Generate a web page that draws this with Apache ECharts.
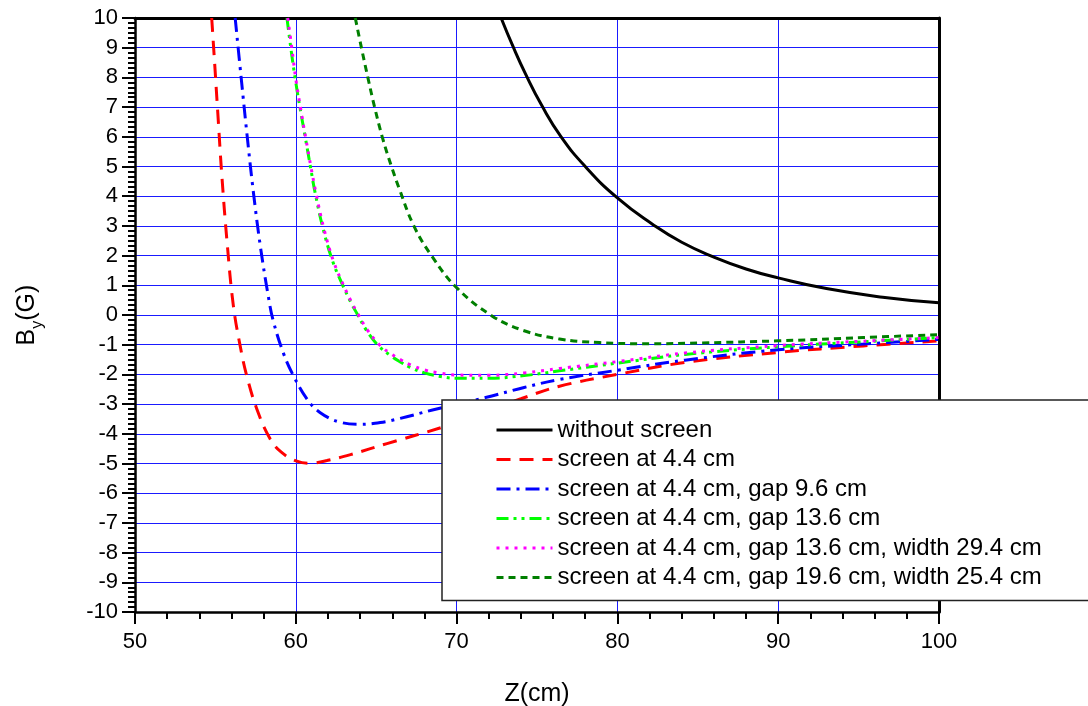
<!DOCTYPE html>
<html>
<head>
<meta charset="utf-8">
<script src="https://cdn.jsdelivr.net/npm/echarts@6/dist/echarts.min.js"></script>
<style>html,body{margin:0;padding:0;background:#fff}#c{width:1088px;height:706px}</style>
</head>
<body>
<div id="c"></div>
<script>
// ---- data ----
const seriesNames = [
  'without screen',
  'screen at 4.4 cm',
  'screen at 4.4 cm, gap 9.6 cm',
  'screen at 4.4 cm, gap 13.6 cm',
  'screen at 4.4 cm, gap 13.6 cm, width 29.4 cm',
  'screen at 4.4 cm, gap 19.6 cm, width 25.4 cm'
];
const zNoScreen = [72.77, 73.5, 74.3, 75.3, 76.5, 78.0, 80, 82.2, 84, 86, 88, 90, 93, 96.5, 100];
const bNoScreen = [10, 9.05, 8.1, 7.05, 6.0, 5.0, 3.94, 3.05, 2.45, 1.95, 1.55, 1.25, 0.89, 0.6, 0.41];

const zScreen = [54.77, 54.95, 55.15, 55.4, 55.75, 56.12, 56.54, 56.95, 57.58, 58.4, 59.1, 60.06, 60.9, 61.93, 63.4, 65.67, 69.1, 71, 72.5, 74, 76.4, 80, 84.2, 90, 95.3, 100];
const bScreen = [10, 8.5, 6.8, 4.7, 2.3, 0.3, -1.04, -2.05, -3.17, -4.17, -4.62, -4.92, -4.99, -4.9, -4.7, -4.33, -3.78, -3.42, -3.12, -2.82, -2.4, -2.0, -1.6, -1.26, -1.04, -0.87];

const zGap96 = [56.23, 56.6, 57.0, 57.37, 57.8, 58.3, 58.6, 59.24, 59.86, 60.7, 61.5, 62.76, 64.0, 65.25, 66.5, 68.5, 71.8, 74.2, 76.4, 80, 84.2, 90, 95.3, 100];
const bGap96 = [10, 8.0, 5.9, 4.1, 2.3, 0.6, -0.2, -1.3, -2.05, -2.83, -3.28, -3.61, -3.68, -3.62, -3.48, -3.2, -2.78, -2.44, -2.17, -1.86, -1.52, -1.17, -0.98, -0.82];

const zGap136 = [59.45, 59.7, 59.97, 60.27, 60.6, 60.9, 61.2, 61.7, 62.3, 62.9, 63.4, 63.8, 64.4, 65.15, 65.9, 66.5, 67.1, 68.0, 69.0, 70, 72, 74.2, 76.4, 80, 84.2, 90, 95.3, 100];
const bGap136 = [10, 8.95, 7.93, 6.95, 5.95, 5.02, 4.12, 2.9, 1.8, 1.02, 0.45, 0.05, -0.52, -1.04, -1.37, -1.58, -1.76, -1.95, -2.07, -2.13, -2.13, -2.04, -1.88, -1.62, -1.33, -1.07, -0.9, -0.76];

const zGap136W = [59.5, 59.75, 60.0, 60.3, 60.62, 60.93, 61.25, 61.75, 62.35, 62.95, 63.45, 63.85, 64.45, 65.2, 65.95, 66.5, 67.1, 68.0, 69.0, 70, 72, 74.2, 76.4, 80, 84.2, 90, 95.3, 100];
const bGap136W = [10, 9.0, 7.95, 6.95, 5.95, 5.02, 4.12, 2.9, 1.8, 1.02, 0.45, 0.05, -0.5, -1.0, -1.32, -1.5, -1.67, -1.85, -1.96, -2.02, -2.03, -1.95, -1.8, -1.57, -1.28, -1.03, -0.88, -0.76];

const zGap196W = [63.7, 64.1, 64.5, 64.9, 65.4, 65.95, 66.45, 67.34, 68.45, 70, 72.2, 74.2, 76.4, 78.9, 82, 85.3, 90, 95.3, 100];
const bGap196W = [10, 8.95, 7.95, 7.0, 5.95, 5.0, 4.23, 3.0, 1.99, 0.92, -0.03, -0.53, -0.81, -0.93, -0.97, -0.94, -0.87, -0.76, -0.66];

const xTicks = [50, 60, 70, 80, 90, 100];
const yTicks = [-10,-9,-8,-7,-6,-5,-4,-3,-2,-1,0,1,2,3,4,5,6,7,8,9,10];

// ---- build chart ----
const pairs = (zs, bs) => zs.map((z, i) => [z, bs[i]]);
const styles = [
  {color: '#000000', type: 'solid', width: 3},
  {color: '#ff0000', type: [14, 9], width: 3},
  {color: '#0000ff', type: [14, 6, 3, 6], width: 3},
  {color: '#00ff00', type: [12, 5, 3, 5, 3, 5], width: 3},
  {color: '#ff00ff', type: [3, 6], width: 3},
  {color: '#007f00', type: [7, 5], width: 3}
];
const datasets = [
  pairs(zNoScreen, bNoScreen),
  pairs(zScreen, bScreen),
  pairs(zGap96, bGap96),
  pairs(zGap136, bGap136),
  pairs(zGap136W, bGap136W),
  pairs(zGap196W, bGap196W)
];

const chart = echarts.init(document.getElementById('c'), null, {renderer: 'canvas'});
const font = 'Liberation Sans, Arial, sans-serif';
const frameAxis = {
  axisLine: {show: true, onZero: false, lineStyle: {color: '#000', width: 3}},
  axisTick: {show: false}, minorTick: {show: false},
  axisLabel: {show: false}, splitLine: {show: false}
};
chart.setOption({
  animation: false,
  backgroundColor: '#fff',
  textStyle: {fontFamily: font},
  grid: {left: 135, right: 149, top: 18, bottom: 94, containLabel: false, outerBoundsMode: 'none'},
  legend: {
    orient: 'vertical',
    left: 442, top: 400,
    padding: [17, 110, 10, 53],
    itemWidth: 56, itemHeight: 14, itemGap: 3.5,
    backgroundColor: '#fff',
    borderColor: '#222', borderWidth: 1.5,
    itemStyle: {color: 'rgba(0,0,0,0)', borderWidth: 0, opacity: 0},
    lineStyle: {width: 3},
    textStyle: {fontSize: 24, color: '#000', fontFamily: font, lineHeight: 26},
    data: seriesNames
  },
  xAxis: [{
    type: 'value', min: xTicks[0], max: xTicks[xTicks.length - 1], interval: 10,
    name: 'Z(cm)', nameLocation: 'middle', nameGap: 70,
    nameTextStyle: {fontSize: 25, color: '#000', fontFamily: font},
    axisLine: {onZero: false, lineStyle: {color: '#000', width: 2.5}},
    axisTick: {show: true, inside: false, length: 12, lineStyle: {color: '#000', width: 2}},
    minorTick: {show: true, splitNumber: 5, length: 7, lineStyle: {color: '#000', width: 2}},
    axisLabel: {fontSize: 22, color: '#000', margin: 19, fontFamily: font},
    splitLine: {show: true, lineStyle: {color: '#1a1aff', width: 1}}
  }, Object.assign({
    type: 'value', position: 'top', min: xTicks[0], max: xTicks[xTicks.length - 1], interval: 10
  }, frameAxis)],
  yAxis: [{
    type: 'value', min: yTicks[0], max: yTicks[yTicks.length - 1], interval: 1,
    name: '{a|B}{b|y}{a|(G)}', nameLocation: 'middle', nameGap: 94, nameRotate: 90,
    nameTextStyle: {
      color: '#000', fontFamily: font,
      rich: {
        a: {fontSize: 25, fontFamily: font, color: '#000', lineHeight: 26, verticalAlign: 'top'},
        b: {fontSize: 16, fontFamily: font, color: '#000', lineHeight: 16, padding: [15, 0, 0, 0], verticalAlign: 'top'}
      }
    },
    axisLine: {onZero: false, lineStyle: {color: '#000', width: 2.5}},
    axisTick: {show: true, inside: false, length: 13, lineStyle: {color: '#000', width: 2}},
    minorTick: {show: true, splitNumber: 6, length: 7, lineStyle: {color: '#000', width: 2}},
    axisLabel: {fontSize: 22, color: '#000', margin: 17, fontFamily: font},
    splitLine: {show: true, lineStyle: {color: '#1a1aff', width: 1}}
  }, Object.assign({
    type: 'value', position: 'right', min: yTicks[0], max: yTicks[yTicks.length - 1], interval: 1
  }, frameAxis)],
  series: datasets.map((d, i) => ({
    name: seriesNames[i],
    type: 'line',
    xAxisIndex: 0, yAxisIndex: 0,
    data: d,
    smooth: i === 0 ? 0.5 : 0.4,
    symbol: 'none',
    showSymbol: false,
    clip: true,
    z: 2 + i * 0.01,
    lineStyle: styles[i],
    itemStyle: {color: styles[i].color}
  }))
});
</script>
</body>
</html>
